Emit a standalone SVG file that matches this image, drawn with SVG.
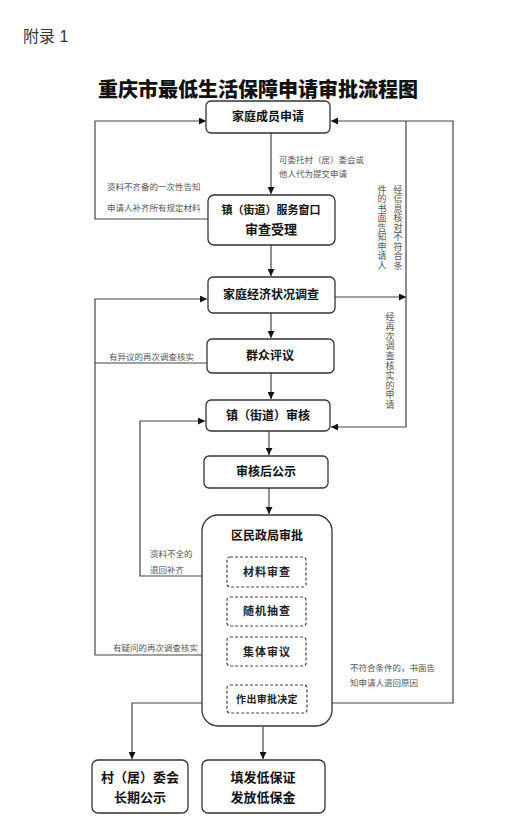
<svg xmlns="http://www.w3.org/2000/svg" width="530" height="840" viewBox="0 0 530 840">
<style>
text{font-family:"Liberation Sans","Noto Sans CJK SC",sans-serif}
.box{fill:#fff;stroke:#333;stroke-width:1.3}
.dbox{fill:#fff;stroke:#444;stroke-width:1.2;stroke-dasharray:3 2}
.bt{font-size:12px;font-weight:bold;fill:#111;text-anchor:middle;dominant-baseline:central}
.dt{font-size:11px;font-weight:bold;fill:#222;text-anchor:middle;dominant-baseline:central;letter-spacing:1px}
.lb{font-size:8.5px;fill:#555}
.vl{font-size:9px;fill:#555;text-anchor:middle;dominant-baseline:central}
.ln{fill:none;stroke:#444;stroke-width:1.2}
</style>
<defs>
<marker id="ar" viewBox="0 0 10 10" refX="10" refY="5" markerWidth="7" markerHeight="7" markerUnits="userSpaceOnUse" orient="auto">
<path d="M0,0 L10,5 L0,10 z" fill="#111"/>
</marker>
</defs>
<rect width="530" height="840" fill="#fff"/>
<text x="23" y="42" style="font-size:16px;fill:#333">附录 1</text>
<text x="258" y="97" style="font-size:20px;font-weight:900;fill:#111;text-anchor:middle">重庆市最低生活保障申请审批流程图</text>

<g id="connectors">
<path class="ln" d="M271,133 V194" marker-end="url(#ar)"/>
<path class="ln" d="M271,245 V276" marker-end="url(#ar)"/>
<path class="ln" d="M271,313 V338" marker-end="url(#ar)"/>
<path class="ln" d="M271,373 V399" marker-end="url(#ar)"/>
<path class="ln" d="M269,431 V455" marker-end="url(#ar)"/>
<path class="ln" d="M269,488 V514" marker-end="url(#ar)"/>
<path class="ln" d="M263,727 V759" marker-end="url(#ar)"/>
<path class="ln" d="M227,703 H132 V759" marker-end="url(#ar)"/>
<path class="ln" d="M307,703 H453 V121 H331" marker-end="url(#ar)"/>
<path class="ln" d="M406,121 V427 H331" marker-end="url(#ar)"/>
<path class="ln" d="M335,297 H406" marker-end="url(#ar)"/>
<path class="ln" d="M208,219 H95 V121 H206" marker-end="url(#ar)"/>
<path class="ln" d="M227,655 H95 V299 H207" marker-end="url(#ar)"/>
<path class="ln" d="M207,363 H95"/>
<path class="ln" d="M227,576 H140 V421 H205" marker-end="url(#ar)"/>
</g>

<g id="labels">
<text class="lb" x="279" y="163">可委托村（居）委会或</text>
<text class="lb" x="279" y="177">他人代为提交申请</text>
<text class="lb" x="107" y="190">资料不齐备的一次性告知</text>
<text class="lb" x="107" y="211">申请人补齐所有规定材料</text>
<text class="vl"><tspan x="398" y="189.5">经</tspan><tspan x="398" y="199">信</tspan><tspan x="398" y="208.5">息</tspan><tspan x="398" y="218">核</tspan><tspan x="398" y="227.5">对</tspan><tspan x="398" y="237">不</tspan><tspan x="398" y="246.5">符</tspan><tspan x="398" y="256">合</tspan><tspan x="398" y="265.5">条</tspan></text>
<text class="vl"><tspan x="382" y="189.5">件</tspan><tspan x="382" y="199">的</tspan><tspan x="382" y="208.5">书</tspan><tspan x="382" y="218">面</tspan><tspan x="382" y="227.5">告</tspan><tspan x="382" y="237">知</tspan><tspan x="382" y="246.5">申</tspan><tspan x="382" y="256">请</tspan><tspan x="382" y="265.5">人</tspan></text>
<text class="vl"><tspan x="390" y="317">经</tspan><tspan x="390" y="326.8">再</tspan><tspan x="390" y="336.6">次</tspan><tspan x="390" y="346.4">调</tspan><tspan x="390" y="356.2">查</tspan><tspan x="390" y="366">核</tspan><tspan x="390" y="375.8">实</tspan><tspan x="390" y="385.6">的</tspan><tspan x="390" y="395.4">申</tspan><tspan x="390" y="405.2">请</tspan></text>
<text class="lb" x="109" y="360">有异议的再次调查核实</text>
<text class="lb" x="150" y="557">资料不全的</text>
<text class="lb" x="150" y="573">退回补齐</text>
<text class="lb" x="113" y="651">有疑问的再次调查核实</text>
<text class="lb" x="350" y="671">不符合条件的，书面告</text>
<text class="lb" x="350" y="686">知申请人退回原因</text>
</g>

<g id="n1"><rect class="box" x="206" y="101" width="124" height="32" rx="5"/><text class="bt" x="268" y="117">家庭成员申请</text></g>
<g id="n2"><rect class="box" x="208" y="195" width="127" height="50" rx="6"/><text class="bt" x="271" y="210" style="font-size:11px">镇（街道）服务窗口</text><text class="bt" x="271" y="229" style="font-size:13px">审查受理</text></g>
<g id="n3"><rect class="box" x="208" y="277" width="127" height="36" rx="5"/><text class="bt" x="271" y="295">家庭经济状况调查</text></g>
<g id="n4"><rect class="box" x="207" y="339" width="127" height="34" rx="5"/><text class="bt" x="270" y="356">群众评议</text></g>
<g id="n5"><rect class="box" x="206" y="400" width="124" height="31" rx="5"/><text class="bt" x="268" y="416">镇（街道）审核</text></g>
<g id="n6"><rect class="box" x="204" y="456" width="124" height="32" rx="5"/><text class="bt" x="266" y="472">审核后公示</text></g>
<g id="n7"><rect class="box" x="202" y="515" width="130" height="211" rx="16"/><text class="bt" x="267" y="536">区民政局审批</text>
<rect class="dbox" x="227" y="557" width="79" height="30" rx="3"/><text class="dt" x="267" y="572">材料审查</text>
<rect class="dbox" x="227" y="597" width="79" height="29" rx="3"/><text class="dt" x="267" y="611">随机抽查</text>
<rect class="dbox" x="227" y="637" width="79" height="29" rx="3"/><text class="dt" x="267" y="652">集体审议</text>
<rect class="dbox" x="227" y="685" width="80" height="28" rx="3"/><text class="dt" x="267" y="699" style="font-size:10px;letter-spacing:0.3px">作出审批决定</text></g>
<g id="n8"><rect class="box" x="92" y="760" width="96" height="53" rx="6"/><text class="bt" x="140" y="777" style="font-size:13px">村（居）委会</text><text class="bt" x="140" y="797" style="font-size:13px">长期公示</text></g>
<g id="n9"><rect class="box" x="202" y="760" width="123" height="53" rx="6"/><text class="bt" x="263" y="777" style="font-size:13px">填发低保证</text><text class="bt" x="263" y="797" style="font-size:13px">发放低保金</text></g>
</svg>
